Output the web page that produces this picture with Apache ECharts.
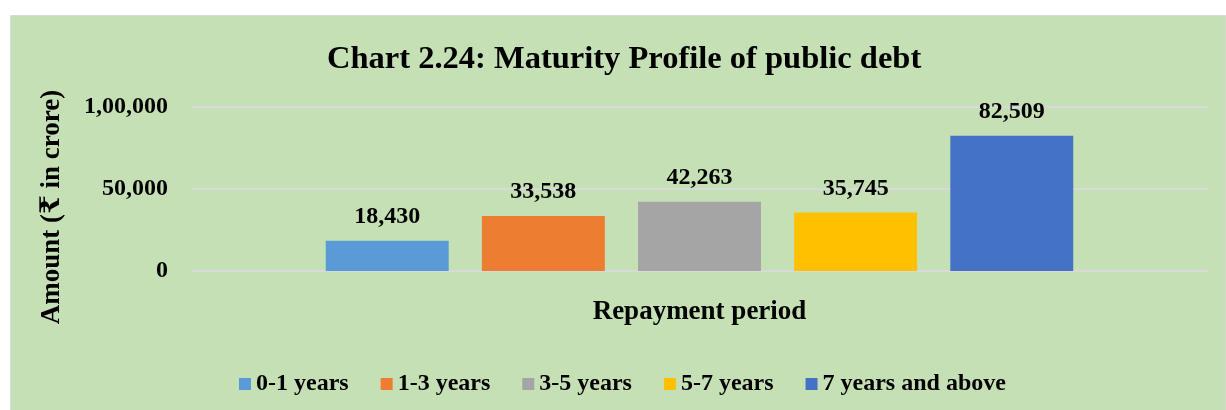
<!DOCTYPE html>
<html>
<head>
<meta charset="utf-8">
<script src="https://cdn.jsdelivr.net/npm/echarts@6/dist/echarts.min.js"></script>
<style>
  html, body { margin: 0; padding: 0; background: #ffffff; }
  #chart { width: 1226px; height: 410px; }
</style>
</head>
<body>
<div id="chart"></div>
<script>
// 还款期限分组及对应金额（₹ crore）
var periods = ['0-1 years', '1-3 years', '3-5 years', '5-7 years', '7 years and above'];
var amounts = [18430, 33538, 42263, 35745, 82509];
var colors = ['#5b9bd5', '#ed7d31', '#a5a5a5', '#ffc000', '#4472c4'];
var yTicks = { 0: '0', 50000: '50,000', 100000: '1,00,000' };

var serif = "'Liberation Serif', 'Times New Roman', 'DejaVu Serif', serif";

function fmtIndian(v) {
  var s = String(v);
  var last3 = s.slice(-3);
  var rest = s.slice(0, -3);
  if (rest) last3 = ',' + last3;
  return rest.replace(/\B(?=(\d{2})+(?!\d))/g, ',') + last3;
}

var chart = echarts.init(document.getElementById('chart'));

var series = periods.map(function (p, i) {
  return {
    name: p,
    type: 'bar',
    data: [amounts[i]],
    itemStyle: { color: colors[i] },
    barGap: '27%',
    barCategoryGap: '26.5%',
    label: {
      show: true,
      position: 'top',
      distance: 12,
      formatter: function (d) { return fmtIndian(d.value); },
      fontFamily: serif,
      fontWeight: 'bold',
      fontSize: 24,
      color: '#000'
    }
  };
});

chart.setOption({
  animation: false,
  graphic: [{
    type: 'rect',
    z: -10,
    silent: true,
    shape: { x: 10.5, y: 15.5, width: 1215, height: 395 },
    style: { fill: '#c5e0b4', stroke: '#d9d9d9', lineWidth: 1 }
  }],
  title: {
    text: 'Chart 2.24: Maturity Profile of public debt',
    left: 322,
    top: 38,
    textStyle: { fontFamily: serif, fontWeight: 'bold', fontSize: 32.5, color: '#000' }
  },
  grid: { left: 191, right: 18, top: 107, bottom: 139 },
  legend: {
    data: periods,
    left: 234,
    top: 367,
    icon: 'rect',
    itemWidth: 12,
    itemHeight: 12,
    itemGap: 32,
    textStyle: { fontFamily: serif, fontWeight: 'bold', fontSize: 24, color: '#000' }
  },
  xAxis: {
    type: 'category',
    data: ['Repayment period'],
    axisLine: { show: false },
    axisTick: { show: false },
    axisLabel: {
      margin: 28,
      fontFamily: serif, fontWeight: 'bold', fontSize: 27, color: '#000'
    }
  },
  yAxis: {
    type: 'value',
    min: 0,
    max: 100000,
    interval: 50000,
    name: 'Amount (₹ in crore)',
    nameLocation: 'middle',
    nameRotate: 90,
    nameGap: 125,
    nameTextStyle: {
      fontFamily: serif, fontWeight: 'bold', fontSize: 27, color: '#000',
      padding: [0, 36, 0, 0]
    },
    axisLine: { show: false },
    axisTick: { show: false },
    axisLabel: {
      margin: 23,
      formatter: function (v) { return yTicks[v] !== undefined ? yTicks[v] : fmtIndian(v); },
      fontFamily: serif, fontWeight: 'bold', fontSize: 24, color: '#000'
    },
    splitLine: { lineStyle: { color: '#d9d9d9', width: 2 } }
  },
  series: series
});
</script>
</body>
</html>
